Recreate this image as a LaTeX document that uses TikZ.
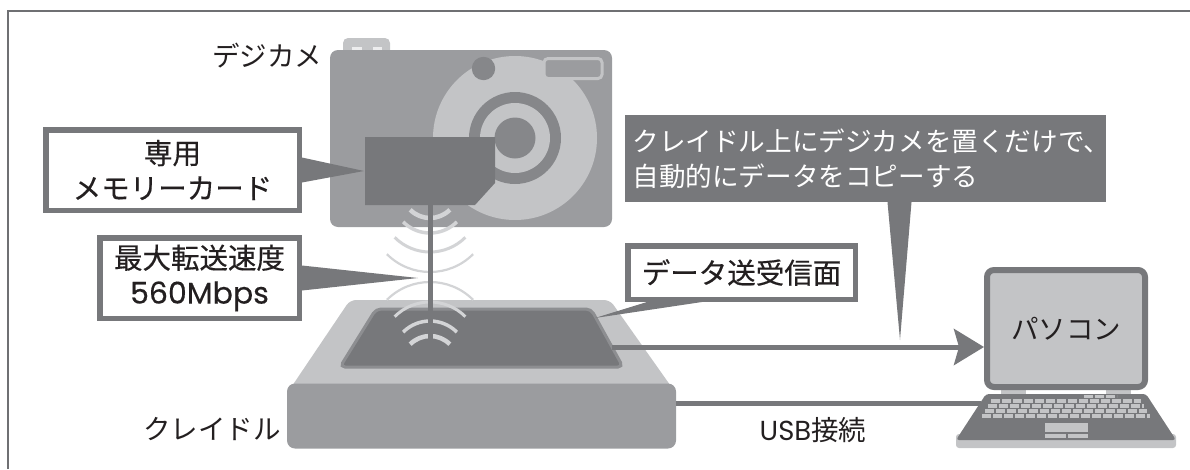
\documentclass[tikz,border=0pt]{standalone}
\usepackage{fontspec}
\setmainfont{Noto Sans CJK JP}
\newfontfamily\boxfont{Noto Sans CJK JP}[FakeBold=0.4]
\newfontfamily\latinfont{Poppins}
\newfontfamily\latinbox{Poppins}[FakeBold=0.4]
\usepackage{tikz}
\usetikzlibrary{arrows.meta}
\definecolor{inkdark}{HTML}{77787B}
\definecolor{inkmid}{HTML}{9B9C9F}
\definecolor{inklight}{HTML}{C3C4C6}
\definecolor{inkring}{HTML}{86878A}
\definecolor{inkwave}{HTML}{D3D4D6}
\definecolor{inkedge}{HTML}{8D8E91}
\definecolor{inkframe}{HTML}{6F7073}
\definecolor{inktext}{HTML}{231F20}
\tikzset{
  txt/.style={font=\fontsize{27.5}{35}\selectfont, text=inktext, inner sep=0},
  callout/.style={draw=inkdark, line width=5.5, fill=white, align=center,
    inner sep=0, text=inktext, font=\boxfont\fontsize{28.5}{35}\selectfont},
  pointer/.style={fill=inkdark},
  wave/.style={draw=inkwave},
  cable/.style={draw=inkdark, line width=5},
  keyrow/.style={draw=inklight, line width=3.3, dash pattern=on 9pt off 2pt},
}

\begin{document}
\begin{tikzpicture}[x=1pt,y=-1pt]
\useasboundingbox (0,0) rectangle (1190,469);
\draw[inkframe, line width=2] (8,469) -- (8,11) -- (1190,11);

\fill[inklight, rounded corners=5] (343,38) rectangle (390,56);
\fill[white!70!inklight] (352,46.5) rectangle (362,49.5);
\fill[white!70!inklight] (373,46.5) rectangle (382,49.5);
\fill[inkmid, rounded corners=8] (330,50) rectangle (612,227);
\fill[inklight] (515,138) circle[radius=82];
\fill[inkring] (515,138) circle[radius=46];
\fill[inklight] (515,138) circle[radius=35];
\fill[inkring] (515,138) circle[radius=20.5];
\fill[inkring] (483.5,68.5) circle[radius=11.7];
\filldraw[fill=inkmid, draw=inklight, line width=3, rounded corners=4] (544,58.5) rectangle (602,78.5);
\fill[inkdark] (365,137) -- (495,137) -- (495,183) -- (475,205) -- (365,205) -- cycle;

\fill[inklight, rounded corners=6] (288,392) -- (350,300) -- (610,300) -- (675,392) -- cycle;
\node[fill=inkmid, rounded corners=8, minimum width=389, minimum height=65, inner sep=0] (cradle) at (481.5,416) {};
\filldraw[fill=inkdark, draw=inkedge, line width=3, rounded corners=5] (340,367) -- (376,309) -- (591,309) -- (623,367) -- cycle;

\foreach \r/\d/\w in {28/59/4.5, 38/44/3.5, 50/25/3, 61/5/2.2} {
  \draw[wave, line width=\w] ([shift={(45:\r)}]430,277-\d-\r) arc[start angle=45, end angle=135, radius=\r];
  \draw[wave, line width=\w] ([shift={(-45:\r)}]430,277+\d+\r) arc[start angle=-45, end angle=-135, radius=\r];
}
\draw[inkdark, line width=5] (430,204) -- (430,345);

\node[callout, minimum width=253.5, minimum height=80.5] (cardbox) at (172.5,170) {専用\\メモリーカード};
\coordinate (cardtip) at (364,171);
\fill[pointer] ([yshift=12.5pt]cardbox.east) -- (cardtip) -- ([yshift=-12.5pt]cardbox.east) -- cycle;

\node[callout, minimum width=199.5, minimum height=80.5] (speedbox) at (199.5,278) {最大転送速度\\{\latinbox\fontsize{30}{35}\selectfont 560Mbps}};
\coordinate (speedtip) at (418,278);
\fill[pointer] ([yshift=12.5pt]speedbox.east) -- (speedtip) -- ([yshift=-12.5pt]speedbox.east) -- cycle;

\node[callout, minimum width=227.5, minimum height=53.5] (databox) at (741.5,272.5) {データ送受信面};
\coordinate (datatip) at (595,318);
\fill[pointer] ([xshift=22pt]databox.south west) -- (datatip) -- ([xshift=77pt]databox.south west) -- cycle;

\node[txt, fill=inkdark, text=white, align=left, text width=466, inner xsep=7.5,
  minimum height=87, font=\fontsize{26.6}{35}\selectfont] (copybox) at (865.5,158.5)
  {クレイドル上にデジカメを置くだけで、\\自動的にデータをコピーする};
\coordinate (copytip) at (900,340);
\fill[pointer] ([xshift=22pt]copybox.south) -- (copytip) -- ([xshift=46pt]copybox.south) -- cycle;

\fill[inklight] (1001,386) rectangle (1026,396);
\fill[inklight] (1106,386) rectangle (1131,396);
\node[txt, fill=inklight, draw=inkdark, line width=6, rounded corners=7, minimum width=158, minimum height=117] (pc) at (1066,328.5) {パソコン};
\fill[inklight, rounded corners=3] (956,434) rectangle (1176,448);
\fill[inkdark, rounded corners=3] (956,440) -- (986,394) -- (1146,394) -- (1176,440) -- cycle;
\foreach \y/\h in {401/75, 406/78, 411/81, 416/84}
  \draw[keyrow] (1066-\h,\y) -- (1066+\h,\y);
\draw[keyrow] (1084,396.5) -- (1117,396.5);
\fill[inklight] (1045,423) rectangle (1088,432);
\fill[inklight] (1045,433.5) rectangle (1065.5,437.5);
\fill[inklight] (1067.5,433.5) rectangle (1088,437.5);

\coordinate (panelport) at (612,347);
\draw[cable, -{Stealth[length=30pt, width=36pt, inset=5pt]}] (panelport) -- (panelport -| pc.west);
\coordinate (deckport) at (981,403);
\draw[cable] (cradle.east |- deckport) -- (deckport);

\node[txt] (camlabel) at (267,56) {デジカメ};
\node[txt] (cradlelabel) at (212,429) {クレイドル};
\node[txt] (usblabel) at (813,430) {{\latinfont USB}接続};
\end{tikzpicture}
\end{document}
